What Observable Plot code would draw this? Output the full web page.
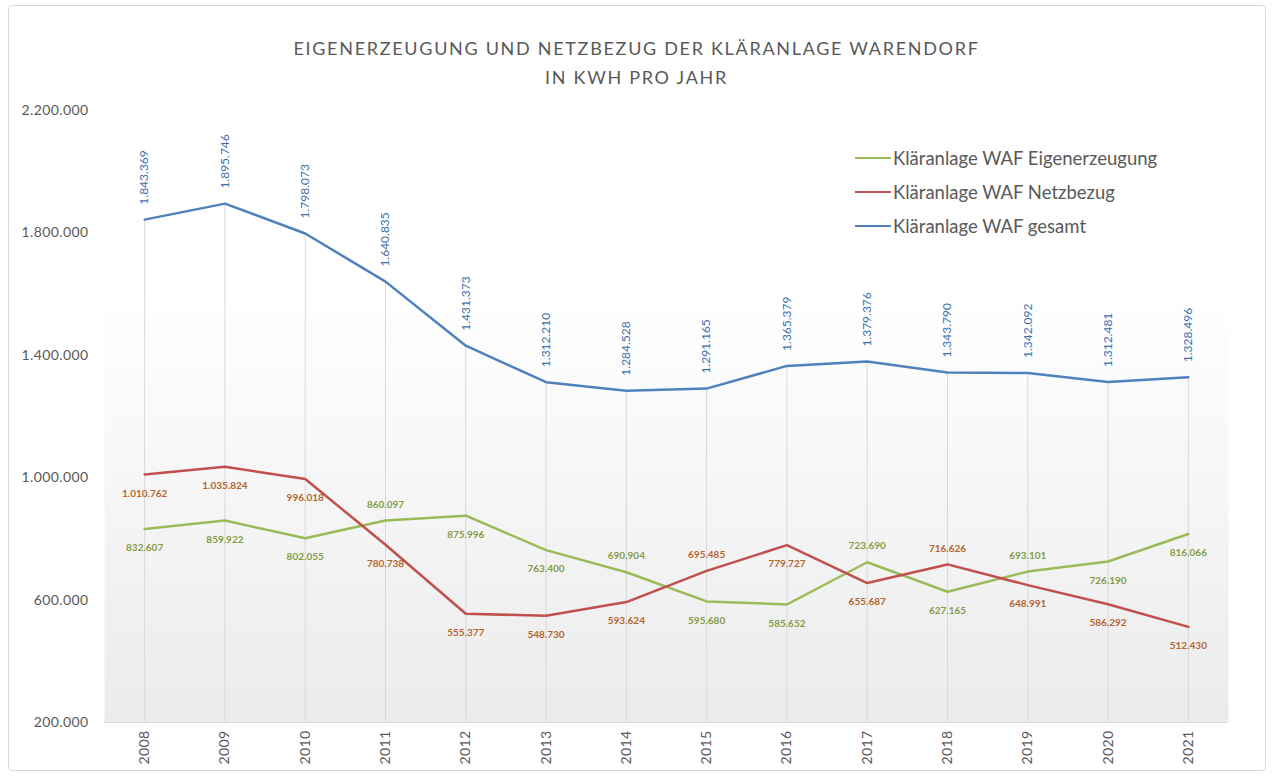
<!DOCTYPE html>
<html>
<head>
<meta charset="utf-8">
<script src="https://cdn.jsdelivr.net/npm/d3@7"></script>
<script src="https://cdn.jsdelivr.net/npm/@observablehq/plot@0.6"></script>
<style>
  html, body { margin: 0; padding: 0; background: #fff; }
  body { width: 1273px; height: 778px; position: relative; overflow: hidden; font-family: Lato, "Open Sans", sans-serif; }
  #frame { position: absolute; left: 8px; top: 5px; width: 1256px; height: 764px; border: 1px solid #d9d9d9; border-radius: 4px; }
  #title { position: absolute; left: 0; top: 34px; width: 1273px; text-align: center; color: #595959; font-size: 18px; letter-spacing: 1.7px; line-height: 29px; }
  #chart { position: absolute; left: 0; top: 95px; }
  #legend { position: absolute; left: 855px; top: 141px; color: #595959; font-size: 18.5px; }
  .item { display: flex; align-items: center; height: 34px; }
  .sw { width: 36px; height: 2px; margin-right: 2px; }
</style>
</head>
<body>
<div id="frame"></div>
<div id="title">EIGENERZEUGUNG UND NETZBEZUG DER KLÄRANLAGE WARENDORF<br>IN KWH PRO JAHR</div>
<div id="chart"></div>
<div id="legend"></div>
<script>
const years = [2008, 2009, 2010, 2011, 2012, 2013, 2014, 2015, 2016, 2017, 2018, 2019, 2020, 2021];
const eigenerzeugung = [832607, 859922, 802055, 860097, 875996, 763400, 690904, 595680, 585652, 723690, 627165, 693101, 726190, 816066];
const netzbezug = [1010762, 1035824, 996018, 780738, 555377, 548730, 593624, 695485, 779727, 655687, 716626, 648991, 586292, 512430];
const gesamt = [1843369, 1895746, 1798073, 1640835, 1431373, 1312210, 1284528, 1291165, 1365379, 1379376, 1343790, 1342092, 1312481, 1328496];
const yTicks = [200000, 600000, 1000000, 1400000, 1800000, 2200000];
const seriesNames = ["Kläranlage WAF Eigenerzeugung", "Kläranlage WAF Netzbezug", "Kläranlage WAF gesamt"];
const seriesColors = ["#9bbb59", "#c0504d", "#4f81bd"];
const labelColors = ["#869b45", "#b5652d", "#3f6fae"];
// years whose value label sits above the point (others below)
const eigenLabelAbove = [2011, 2014, 2017, 2019];
const netzLabelAbove = [2015, 2018];

const de = d3.formatLocale({decimal: ",", thousands: ".", grouping: [3], currency: ["", " €"]});
const fmt = de.format(",.0f");

const eigenRows = years.map((year, i) => ({year, value: eigenerzeugung[i], above: eigenLabelAbove.includes(year)}));
const netzRows = years.map((year, i) => ({year, value: netzbezug[i], above: netzLabelAbove.includes(year)}));
const totalRows = years.map((year, i) => ({year, value: gesamt[i]}));

const labelMarks = (rows, color) => [
  Plot.text(rows.filter(d => !d.above), {x: "year", y: "value", text: d => fmt(d.value), dy: 19, fill: color, fontSize: 10, fontWeight: "bold"}),
  Plot.text(rows.filter(d => d.above), {x: "year", y: "value", text: d => fmt(d.value), dy: -16, fill: color, fontSize: 10, fontWeight: "bold"})
];

const svg = Plot.plot({
  width: 1273,
  height: 677,
  marginLeft: 104,
  marginRight: 45,
  marginTop: 15,
  marginBottom: 50,
  style: {fontFamily: "Lato, 'Open Sans', sans-serif", fontSize: "14px", color: "#595959", background: "transparent", overflow: "visible"},
  x: {type: "point", domain: years, padding: 0.5, round: false, label: null, tickSize: 0, tickRotate: -90, tickPadding: 8, tickFormat: d => `${d}`},
  y: {domain: [200000, 2200000], ticks: yTicks, tickFormat: fmt, label: null, tickSize: 0, tickPadding: 16},
  marks: [
    Plot.frame({fill: "url(#bgGrad)", stroke: "none"}),
    Plot.ruleX(totalRows, {x: "year", y1: 200000, y2: "value", stroke: "#d9d9d9", strokeWidth: 1}),
    Plot.ruleY([200000], {stroke: "#d9d9d9"}),
    Plot.line(eigenRows, {x: "year", y: "value", stroke: seriesColors[0], strokeWidth: 2.5}),
    Plot.line(netzRows, {x: "year", y: "value", stroke: seriesColors[1], strokeWidth: 2.5}),
    Plot.line(totalRows, {x: "year", y: "value", stroke: seriesColors[2], strokeWidth: 2.5}),
    ...labelMarks(eigenRows, labelColors[0]),
    ...labelMarks(netzRows, labelColors[1]),
    Plot.text(totalRows, {x: "year", y: "value", text: d => fmt(d.value), rotate: -90, textAnchor: "start", dy: -15, fill: labelColors[2], fontSize: 12})
  ]
});

const defs = d3.select(svg).insert("defs", ":first-child");
const grad = defs.append("linearGradient").attr("id", "bgGrad").attr("x1", 0).attr("y1", 0).attr("x2", 0).attr("y2", 1);
grad.append("stop").attr("offset", "0").attr("stop-color", "#ffffff");
grad.append("stop").attr("offset", "0.3").attr("stop-color", "#ffffff");
grad.append("stop").attr("offset", "1").attr("stop-color", "#ebebeb");

// slightly wider spacing for the axis tick labels only
d3.select(svg).selectAll("g[aria-label$='tick label'], g[aria-label$='axis']").attr("letter-spacing", "0.4px");

document.getElementById("chart").appendChild(svg);

const legend = d3.select("#legend");
seriesNames.forEach((name, i) => {
  const item = legend.append("div").attr("class", "item");
  item.append("div").attr("class", "sw").style("background", seriesColors[i]);
  item.append("span").text(name);
});
</script>
</body>
</html>
